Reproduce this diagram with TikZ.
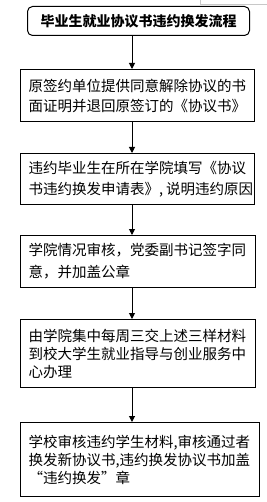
\documentclass[tikz,border=0pt]{standalone}
\usepackage{fontspec}
\newfontfamily\cjk{Noto Sans CJK SC}
\usetikzlibrary{arrows.meta}
\definecolor{lightframe}{RGB}{200,200,200}
\begin{document}
\begin{tikzpicture}[x=1pt,y=-1pt,
  stepbox/.style={draw, line width=1pt, anchor=north west, inner xsep=8pt, inner ysep=0pt, align=left},
  titlebox/.style={draw, line width=1pt, anchor=north west, rounded corners=5pt, inner sep=0pt, align=center, font=\cjk\bfseries\fontsize{14}{16}\selectfont},
  arr/.style={line width=1pt, -{Triangle[width=6pt,length=6pt]}}]
\useasboundingbox (0,0) rectangle (267,502);
\draw[line width=1pt, lightframe] (200,0) -- (200,4.5) -- (267,4.5);
\coordinate (ax) at (132,0);
\node[titlebox, minimum width=222pt, minimum height=29pt] (t) at (27,6) {毕业生就业协议书违约换发流程};
\node[stepbox, minimum width=234pt, text width=218pt, minimum height=52pt, font=\cjk\fontsize{14.5}{20}\selectfont] (b1) at (20,69)
  {原签约单位提供同意解除协议的书\\面证明并退回原签订的《协议书》};
\node[stepbox, minimum width=234pt, text width=218pt, minimum height=51pt, font=\cjk\fontsize{14.5}{20.5}\selectfont] (b2) at (20,153)
  {违约毕业生在所在学院填写《协议\\\mbox{书违约换发申请表》,\kern3pt 说明违约原因}};
\node[stepbox, minimum width=235pt, text width=219pt, minimum height=52pt, font=\cjk\fontsize{14.5}{22}\selectfont] (b3) at (20,235)
  {学院情况审核，党委副书记签字同\\意，并加盖公章};
\node[stepbox, minimum width=235pt, text width=219pt, minimum height=68pt, font=\cjk\fontsize{14.5}{18}\selectfont] (b4) at (20,319)
  {由学院集中每周三交上述三样材料\\到校大学生就业指导与创业服务中\\心办理};
\node[stepbox, minimum width=239pt, text width=223pt, minimum height=74pt, font=\cjk\fontsize{14.5}{18}\selectfont] (b5) at (20,422)
  {学校审核违约学生材料,审核通过者\\换发新协议书,违约换发协议书加盖\\“违约换发”章};
\draw[arr] (t.south -| ax) -- (b1.north -| ax);
\draw[arr] (b1.south -| ax) -- (b2.north -| ax);
\draw[arr] (b2.south -| ax) -- (b3.north -| ax);
\draw[arr] (b3.south -| ax) -- (b4.north -| ax);
\draw[arr] (b4.south -| ax) -- (b5.north -| ax);
\end{tikzpicture}
\end{document}
